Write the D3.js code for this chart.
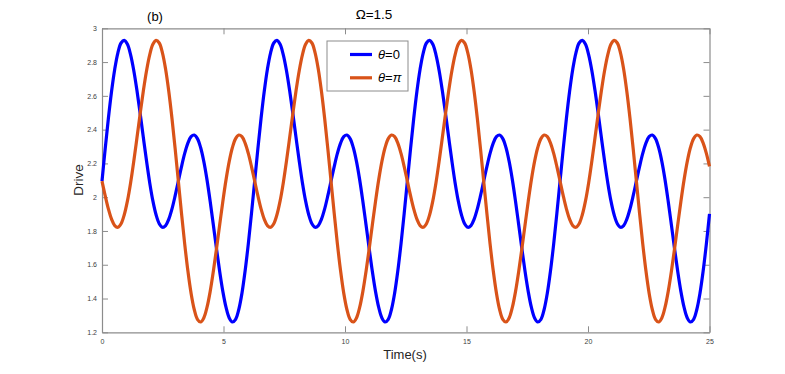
<!DOCTYPE html>
<html>
<head>
<meta charset="utf-8">
<script src="https://cdn.jsdelivr.net/npm/d3@7"></script>
<style>
  body { margin: 0; background: #fff; }
  text { font-family: "Liberation Sans", Arial, sans-serif; }
</style>
</head>
<body>
<div id="chart_div"></div>
<script>
// time samples (s)
var time = [0, 0.131, 0.262, 0.393, 0.524, 0.654, 0.785, 0.916, 1.047, 1.178, 1.309, 1.440,
  1.571, 1.702, 1.833, 1.963, 2.094, 2.225, 2.356, 2.487, 2.618, 2.749, 2.880, 3.011,
  3.142, 3.272, 3.403, 3.534, 3.665, 3.796, 3.927, 4.058, 4.189, 4.320, 4.451, 4.581,
  4.712, 4.843, 4.974, 5.105, 5.236, 5.367, 5.498, 5.629, 5.760, 5.890, 6.021, 6.152,
  6.283, 6.414, 6.545, 6.676, 6.807, 6.938, 7.069, 7.199, 7.330, 7.461, 7.592, 7.723,
  7.854, 7.985, 8.116, 8.247, 8.378, 8.508, 8.639, 8.770, 8.901, 9.032, 9.163, 9.294,
  9.425, 9.556, 9.687, 9.818, 9.948, 10.079, 10.210, 10.341, 10.472, 10.603, 10.734, 10.865,
  10.996, 11.126, 11.257, 11.388, 11.519, 11.650, 11.781, 11.912, 12.043, 12.174, 12.305, 12.436,
  12.566, 12.697, 12.828, 12.959, 13.090, 13.221, 13.352, 13.483, 13.614, 13.744, 13.875, 14.006,
  14.137, 14.268, 14.399, 14.530, 14.661, 14.792, 14.923, 15.053, 15.184, 15.315, 15.446, 15.577,
  15.708, 15.839, 15.970, 16.101, 16.232, 16.362, 16.493, 16.624, 16.755, 16.886, 17.017, 17.148,
  17.279, 17.410, 17.541, 17.671, 17.802, 17.933, 18.064, 18.195, 18.326, 18.457, 18.588, 18.719,
  18.850, 18.980, 19.111, 19.242, 19.373, 19.504, 19.635, 19.766, 19.897, 20.028, 20.159, 20.290,
  20.420, 20.551, 20.682, 20.813, 20.944, 21.075, 21.206, 21.337, 21.468, 21.598, 21.729, 21.860,
  21.991, 22.122, 22.253, 22.384, 22.515, 22.646, 22.777, 22.907, 23.038, 23.169, 23.300, 23.431,
  23.562, 23.693, 23.824, 23.955, 24.086, 24.216, 24.347, 24.478, 24.609, 24.740, 24.871, 25];

// theta = 0
var drive_0 = [
  2.095, 2.286, 2.466, 2.626, 2.758, 2.855, 2.913, 2.929, 2.905, 2.843, 2.749, 2.630,
  2.495, 2.353, 2.214, 2.086, 1.978, 1.896, 1.843, 1.822, 1.832, 1.870, 1.931, 2.009,
  2.095, 2.181, 2.259, 2.320, 2.358, 2.368, 2.347, 2.294, 2.212, 2.104, 1.976, 1.837,
  1.695, 1.560, 1.441, 1.347, 1.285, 1.261, 1.277, 1.335, 1.432, 1.564, 1.724, 1.904,
  2.095, 2.286, 2.466, 2.626, 2.758, 2.855, 2.913, 2.929, 2.905, 2.843, 2.749, 2.630,
  2.495, 2.353, 2.214, 2.086, 1.978, 1.896, 1.843, 1.822, 1.832, 1.870, 1.931, 2.009,
  2.095, 2.181, 2.259, 2.320, 2.358, 2.368, 2.347, 2.294, 2.212, 2.104, 1.976, 1.837,
  1.695, 1.560, 1.441, 1.347, 1.285, 1.261, 1.277, 1.335, 1.432, 1.564, 1.724, 1.904,
  2.095, 2.286, 2.466, 2.626, 2.758, 2.855, 2.913, 2.929, 2.905, 2.843, 2.749, 2.630,
  2.495, 2.353, 2.214, 2.086, 1.978, 1.896, 1.843, 1.822, 1.832, 1.870, 1.931, 2.009,
  2.095, 2.181, 2.259, 2.320, 2.358, 2.368, 2.347, 2.294, 2.212, 2.104, 1.976, 1.837,
  1.695, 1.560, 1.441, 1.347, 1.285, 1.261, 1.277, 1.335, 1.432, 1.564, 1.724, 1.904,
  2.095, 2.286, 2.466, 2.626, 2.758, 2.855, 2.913, 2.929, 2.905, 2.843, 2.749, 2.630,
  2.495, 2.353, 2.214, 2.086, 1.978, 1.896, 1.843, 1.822, 1.832, 1.870, 1.931, 2.009,
  2.095, 2.181, 2.259, 2.320, 2.358, 2.368, 2.347, 2.294, 2.212, 2.104, 1.976, 1.837,
  1.695, 1.560, 1.441, 1.347, 1.285, 1.261, 1.277, 1.335, 1.432, 1.564, 1.724, 1.901];

// theta = pi
var drive_pi = [
  2.095, 2.009, 1.931, 1.870, 1.832, 1.822, 1.843, 1.896, 1.978, 2.086, 2.214, 2.353,
  2.495, 2.630, 2.749, 2.843, 2.905, 2.929, 2.913, 2.855, 2.758, 2.626, 2.466, 2.286,
  2.095, 1.904, 1.724, 1.564, 1.432, 1.335, 1.277, 1.261, 1.285, 1.347, 1.441, 1.560,
  1.695, 1.837, 1.976, 2.104, 2.212, 2.294, 2.347, 2.368, 2.358, 2.320, 2.259, 2.181,
  2.095, 2.009, 1.931, 1.870, 1.832, 1.822, 1.843, 1.896, 1.978, 2.086, 2.214, 2.353,
  2.495, 2.630, 2.749, 2.843, 2.905, 2.929, 2.913, 2.855, 2.758, 2.626, 2.466, 2.286,
  2.095, 1.904, 1.724, 1.564, 1.432, 1.335, 1.277, 1.261, 1.285, 1.347, 1.441, 1.560,
  1.695, 1.837, 1.976, 2.104, 2.212, 2.294, 2.347, 2.368, 2.358, 2.320, 2.259, 2.181,
  2.095, 2.009, 1.931, 1.870, 1.832, 1.822, 1.843, 1.896, 1.978, 2.086, 2.214, 2.353,
  2.495, 2.630, 2.749, 2.843, 2.905, 2.929, 2.913, 2.855, 2.758, 2.626, 2.466, 2.286,
  2.095, 1.904, 1.724, 1.564, 1.432, 1.335, 1.277, 1.261, 1.285, 1.347, 1.441, 1.560,
  1.695, 1.837, 1.976, 2.104, 2.212, 2.294, 2.347, 2.368, 2.358, 2.320, 2.259, 2.181,
  2.095, 2.009, 1.931, 1.870, 1.832, 1.822, 1.843, 1.896, 1.978, 2.086, 2.214, 2.353,
  2.495, 2.630, 2.749, 2.843, 2.905, 2.929, 2.913, 2.855, 2.758, 2.626, 2.466, 2.286,
  2.095, 1.904, 1.724, 1.564, 1.432, 1.335, 1.277, 1.261, 1.285, 1.347, 1.441, 1.560,
  1.695, 1.837, 1.976, 2.104, 2.212, 2.294, 2.347, 2.368, 2.358, 2.320, 2.259, 2.182];

var x_ticks = [0, 5, 10, 15, 20, 25];
var y_ticks = [1.2, 1.4, 1.6, 1.8, 2, 2.2, 2.4, 2.6, 2.8, 3];

var W = 785, H = 374;
var pLeft = 102, pRight = 709.5, pTop = 28.3, pBottom = 332.3;
var axis_col = "#8c8c8c", label_col = "#404040";

var svg = d3.select("#chart_div")
  .append("svg")
    .attr("width", W)
    .attr("height", H);

var x = d3.scaleLinear().domain([0, 25]).range([pLeft, pRight]);
var y = d3.scaleLinear().domain([1.2, 3]).range([pBottom, pTop]);

var fmt = d => (+d.toFixed(1)).toString();

// axes, ticks pointing inward (box all round)
var xBottom = svg.append("g")
  .attr("transform", "translate(0," + pBottom + ")")
  .call(d3.axisBottom(x).tickValues(x_ticks).tickFormat(fmt).tickSizeInner(-6).tickSizeOuter(0).tickPadding(7));
var xTop = svg.append("g")
  .attr("transform", "translate(0," + pTop + ")")
  .call(d3.axisTop(x).tickValues(x_ticks).tickFormat("").tickSizeInner(-6).tickSizeOuter(0));
var yLeft = svg.append("g")
  .attr("transform", "translate(" + pLeft + ",0)")
  .call(d3.axisLeft(y).tickValues(y_ticks).tickFormat(fmt).tickSizeInner(-6).tickSizeOuter(0).tickPadding(5));
var yRight = svg.append("g")
  .attr("transform", "translate(" + pRight + ",0)")
  .call(d3.axisRight(y).tickValues(y_ticks).tickFormat("").tickSizeInner(-6).tickSizeOuter(0));

[xBottom, xTop, yLeft, yRight].forEach(a => {
  a.select(".domain").attr("stroke", axis_col).attr("stroke-width", 1.2);
  a.selectAll(".tick line").attr("stroke", axis_col).attr("stroke-width", 1);
  a.selectAll(".tick text").attr("fill", label_col).attr("font-size", 7)
    .attr("font-family", "'Liberation Sans', Arial, sans-serif");
});

// curves
var line = d3.line()
  .x((d, i) => x(time[i]))
  .y(d => y(d))
  .curve(d3.curveCatmullRom.alpha(0.5));

svg.append("path")
  .datum(drive_0)
  .attr("fill", "none")
  .attr("stroke", "#0000ff")
  .attr("stroke-width", 3.2)
  .attr("d", line);

svg.append("path")
  .datum(drive_pi)
  .attr("fill", "none")
  .attr("stroke", "#d95319")
  .attr("stroke-width", 3.2)
  .attr("d", line);

// labels
svg.append("text")
  .attr("x", 405).attr("y", 359)
  .attr("text-anchor", "middle").attr("font-size", 13).attr("fill", "#262626")
  .text("Time(s)");

svg.append("text")
  .attr("transform", "translate(83,180) rotate(-90)")
  .attr("text-anchor", "middle").attr("font-size", 13.5).attr("fill", "#262626")
  .text("Drive");

svg.append("text")
  .attr("x", 374).attr("y", 19)
  .attr("text-anchor", "middle").attr("font-size", 13.5).attr("fill", "#000")
  .text("Ω=1.5");

svg.append("text")
  .attr("x", 155).attr("y", 21)
  .attr("text-anchor", "middle").attr("font-size", 13).attr("fill", "#000")
  .text("(b)");

// legend
var legend = [
  {name: "0", color: "#0000ff"},
  {name: "π", color: "#d95319"}
];
var lg = svg.append("g").attr("transform", "translate(327,41)");
lg.append("rect")
  .attr("width", 81).attr("height", 50)
  .attr("fill", "#fff").attr("stroke", "#8c8c8c").attr("stroke-width", 1);

var items = lg.selectAll(".item").data(legend).enter().append("g")
  .attr("class", "item")
  .attr("transform", (d, i) => "translate(0," + (13.5 + i * 23.3) + ")");
items.append("line")
  .attr("x1", 23).attr("x2", 45)
  .attr("stroke", d => d.color).attr("stroke-width", 3.2);
var lt = items.append("text")
  .attr("x", 51).attr("y", 4.5)
  .attr("font-size", 13).attr("fill", "#000");
lt.append("tspan").attr("font-style", "italic").text("θ");
lt.append("tspan").text("=");
lt.append("tspan").attr("font-style", d => d.name === "π" ? "italic" : "normal").text(d => d.name);
</script>
</body>
</html>
